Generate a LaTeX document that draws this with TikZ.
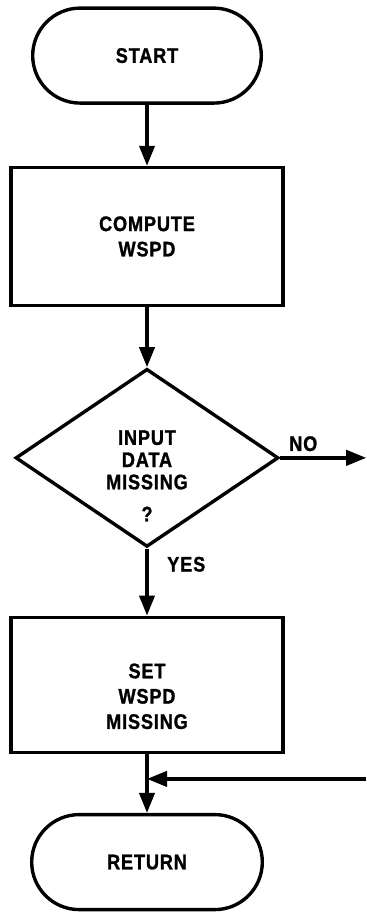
\documentclass[tikz,border=0pt]{standalone}
\usepackage{fontspec}
\setmainfont{Liberation Sans}[FakeStretch=0.86, LetterSpace=4, BoldFeatures={FakeBold=1.2}]
\usetikzlibrary{shapes.geometric,shapes.misc,arrows.meta,positioning}

\begin{document}
\begin{tikzpicture}[
  node distance=1.5cm, font=\fontsize{15}{18}\selectfont\bfseries,
  term/.style={rounded rectangle, draw, line width=2.4pt,
               minimum width=5.95cm, minimum height=2.375cm},
  proc/.style={rectangle, draw, line width=2.4pt,
               minimum width=6.8cm, align=center},
  dec/.style={diamond, draw, line width=2.4pt, aspect=1.48, inner sep=0pt,
              minimum width=6.575cm, minimum height=4.45cm, align=center},
  arr/.style={-{Triangle[length=0.5cm,width=0.38cm]}, line width=2.4pt},
]
  \useasboundingbox (0,0) rectangle (9.15,-22.875);
  %% Main column
  \node[term] (start) at (3.675,-1.39) {START};
  \node[proc, minimum height=3.45cm, below=1.525cm of start] (compute)
       {COMPUTE\\WSPD};
  \node[dec, below=1.5cm of compute,
        label={[align=center, yshift=-0.45cm, font=\fontsize{15}{15.8}\selectfont\bfseries]center:INPUT\\DATA\\MISSING\\[7pt]?}]
       (test) {};
  \node[proc, minimum height=3.375cm, below=1.675cm of test,
        label={[align=center, yshift=-0.29cm]center:SET\\WSPD\\MISSING}]
       (setwspd) {};
  \node[term, minimum width=6cm, below=1.475cm of setwspd] (ret) {RETURN};
  %% Branch labels
  \node[above right=0.16cm and 0.22cm of test.east, inner sep=0pt] (nolbl) {NO};
  \node[below right=0.2cm and 0.5cm of test.south, inner sep=0pt] (yeslbl) {YES};
  %% Free ends of the side connectors
  \coordinate[right=2.15cm of test.east] (noout);
  \coordinate[below=0.625cm of setwspd.south] (join);
  \coordinate[right=5.475cm of join] (loopin);

  \draw[arr] (start.south)   -- (compute.north);
  \draw[arr] (compute.south) -- (test.north);
  \draw[arr] (test.south)    -- (setwspd.north);
  \draw[arr] (test.east)     -- (noout);
  \draw[arr] (setwspd.south) -- (ret.north);
  \draw[arr] (loopin)        -- (join);
\end{tikzpicture}
\end{document}
